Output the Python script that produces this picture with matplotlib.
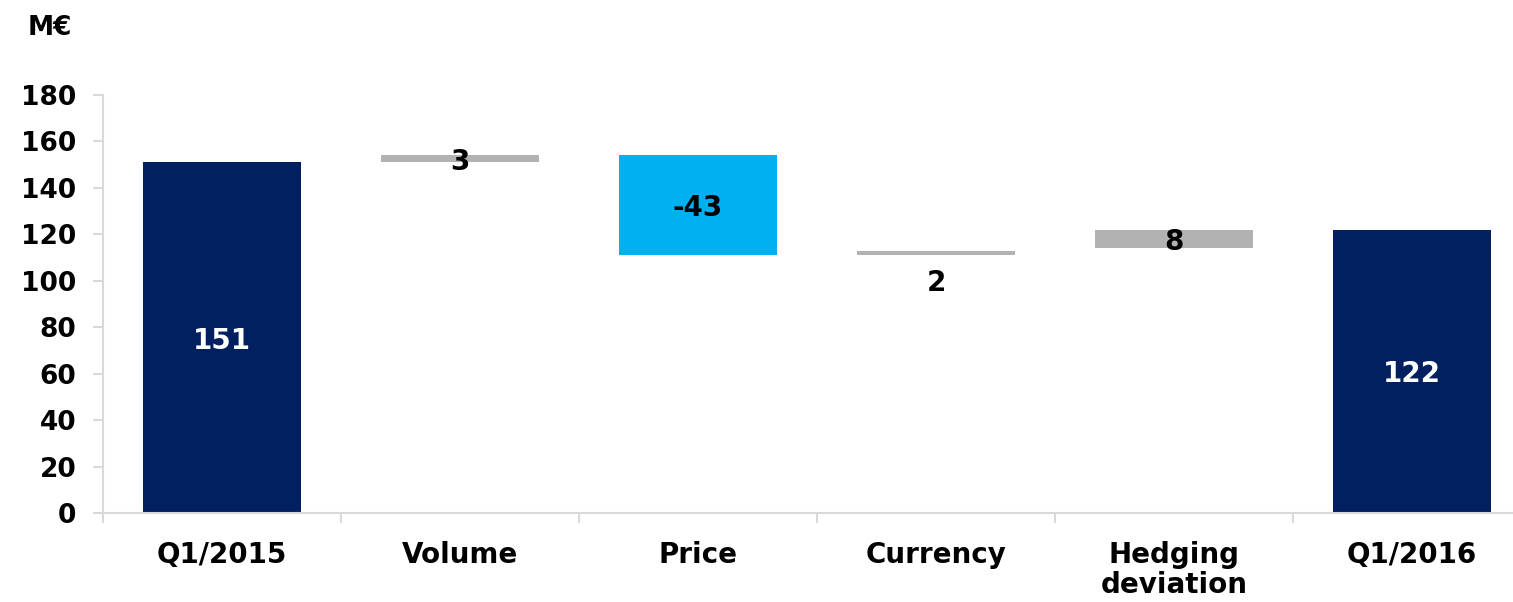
import numpy as np
import matplotlib.pyplot as plt

# waterfall data (M€)
categories = ["Q1/2015", "Volume", "Price", "Currency", "Hedging\ndeviation", "Q1/2016"]
bar_bottoms = [0, 151, 111, 111, 114, 0]
bar_heights = [151, 3, 43, 2, 8, 122]
value_labels = ["151", "3", "-43", "2", "8", "122"]

navy = "#022060"
cyan = "#00B0F0"
grey = "#B2B2B2"
bar_colors = [navy, grey, cyan, grey, grey, navy]
label_colors = ["white", "black", "black", "black", "black", "white"]

plt.rcParams["font.family"] = ["DejaVu Sans"]
plt.rcParams["font.weight"] = "bold"

fig = plt.figure(figsize=(15.13, 6.02), dpi=100)
ax = fig.add_axes([103 / 1513, 89 / 602, 1428 / 1513, 418 / 602])

x = np.arange(len(categories))
ax.bar(x, bar_heights, bottom=bar_bottoms, width=0.665, color=bar_colors, zorder=2)

for i, (b, h, lab, c) in enumerate(zip(bar_bottoms, bar_heights, value_labels, label_colors)):
    y = b + h / 2
    if categories[i] == "Currency":
        y = b - 10.5  # label sits below the thin bar
    ax.text(i, y, lab, ha="center", va="center_baseline", color=c, fontsize=20,
            fontweight="bold", zorder=3)

ax.set_xlim(-0.5, len(categories) - 0.5)
ax.set_ylim(0, 180)
ax.set_yticks(np.arange(0, 181, 20))

ax.set_xticks(x)
ax.set_xticklabels(categories, fontsize=20, fontweight="bold", linespacing=1.1, va="top")
ax.set_xticks(np.arange(-0.5, len(categories), 1), minor=True)
ax.tick_params(axis="x", which="major", length=0, pad=20)
ax.tick_params(axis="x", which="minor", length=7, width=1.5, color="#D9D9D9", direction="out")
ax.tick_params(axis="y", length=7, width=1.5, color="#D9D9D9", pad=12, labelsize=19)
for lbl in ax.get_yticklabels():
    lbl.set_fontweight("bold")

for side in ["top", "right"]:
    ax.spines[side].set_visible(False)
for side in ["left", "bottom"]:
    ax.spines[side].set_color("#D9D9D9")
    ax.spines[side].set_linewidth(1.5)

fig.text(28 / 1513, 1 - 28 / 602, "M€", ha="left", va="center", fontsize=19, fontweight="bold")

fig.savefig("out.png", dpi=100)
